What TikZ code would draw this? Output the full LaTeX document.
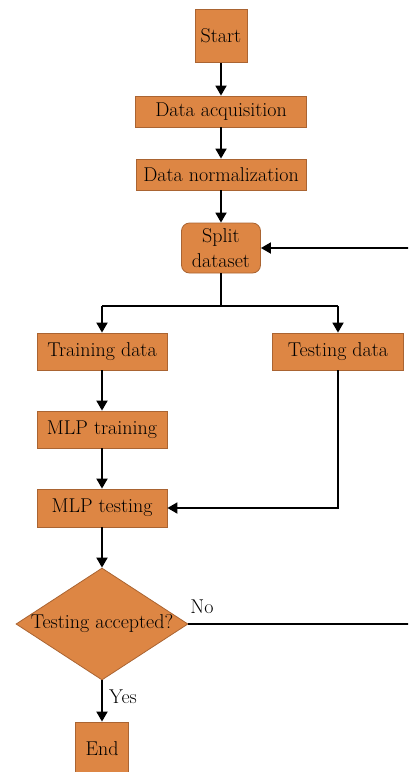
\documentclass[tikz,border=0pt]{standalone}
\usetikzlibrary{shapes.geometric,arrows.meta}
\definecolor{boxfill}{RGB}{221,134,68}
\definecolor{boxline}{RGB}{170,100,50}
\begin{document}
\begin{tikzpicture}[x=1pt,y=-1pt,
  box/.style={draw=boxline,fill=boxfill,line width=0.8pt,inner sep=0pt,align=center,
    font=\rmfamily\fontsize{20}{25}\selectfont},
  lab/.style={inner sep=0pt,font=\rmfamily\fontsize{20}{25}\selectfont},
  conn/.style={line width=1.8pt,-{Triangle[length=10pt,width=11pt]}},
  seg/.style={line width=1.8pt}]
\useasboundingbox (0,0) rectangle (408,772);
\clip (0,0) rectangle (408,772);
\node[box,minimum width=52,minimum height=53] (start) at (221,36) {Start};
\node[box,minimum width=171,minimum height=31] (acq) at (221,111.5) {Data acquisition};
\node[box,minimum width=170,minimum height=31] (norm) at (221,174.5) {Data normalization};
\node[box,rounded corners=8pt,minimum width=79,minimum height=50] (split) at (221,248) {Split\\dataset};
\node[box,minimum width=130,minimum height=37] (train) at (102,351.5) {Training data};
\node[box,minimum width=131,minimum height=37] (test) at (338,351.5) {Testing data};
\node[box,minimum width=130,minimum height=37] (mlptr) at (102,429.5) {MLP training};
\node[box,minimum width=130,minimum height=38] (mlpte) at (102,508) {MLP testing};
\node[box,diamond,minimum width=172,minimum height=112] (dec) at (102,624) {\makebox[0pt]{Testing accepted?}};
\node[box,minimum width=53,minimum height=53] (end) at (102,748.5) {End};
\node[lab] (no) at (202,607) {No};
\node[lab] (yes) at (123,697) {Yes};
\coordinate (fork) at (221,306);
\coordinate (forkl) at (102,306);
\coordinate (forkr) at (338,306);
\coordinate (tcorner) at (338,508);
\coordinate (r1) at (412,624);
\coordinate (r2) at (412,248);
\draw[conn] (start) -- (acq);
\draw[conn] (acq) -- (norm);
\draw[conn] (norm) -- (split);
\draw[seg] (split.south) -- (fork);
\draw[seg] (forkl) -- (forkr);
\draw[conn] (forkl) -- (train.north);
\draw[conn] (forkr) -- (test.north);
\draw[conn] (train) -- (mlptr);
\draw[conn] (mlptr) -- (mlpte);
\draw[conn] (test.south) -- (tcorner) -- (mlpte.east);
\draw[conn] (mlpte) -- (dec.north);
\draw[conn] (dec.south) -- (end);
\draw[conn] (dec.east) -- (r1) -- (r2) -- (split.east);
\end{tikzpicture}
\end{document}
